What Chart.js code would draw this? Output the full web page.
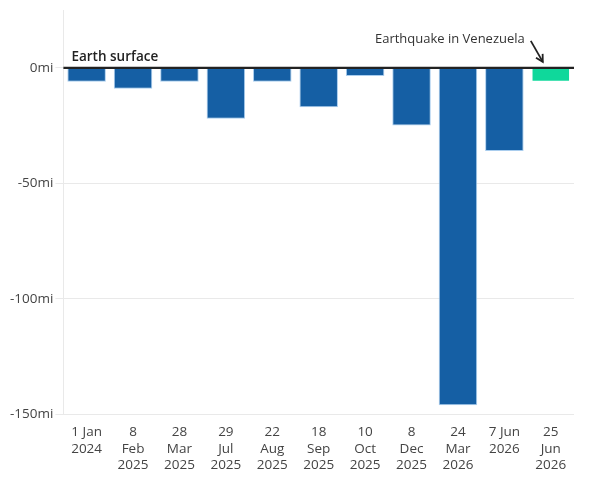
<!DOCTYPE html>
<html>
<head>
<meta charset="utf-8">
<script src="https://cdn.jsdelivr.net/npm/chart.js@4/dist/chart.umd.min.js"></script>
<style>
html,body{margin:0;padding:0;background:#fff;}
#wrap{width:597px;height:478px;position:relative;}
</style>
</head>
<body>
<div id="wrap"><canvas id="c" width="597" height="478"></canvas></div>
<script>
const categories = [
  ["1 Jan","2024"],
  ["8","Feb","2025"],
  ["28","Mar","2025"],
  ["29","Jul","2025"],
  ["22","Aug","2025"],
  ["18","Sep","2025"],
  ["10","Oct","2025"],
  ["8","Dec","2025"],
  ["24","Mar","2026"],
  ["7 Jun","2026"],
  ["25","Jun","2026"]
];
const depthMiles = [-6, -9, -6, -22, -6, -17, -3.5, -25, -146, -36, -6];
const yTickValues = [0, -50, -100, -150];
const surfaceLabel = "Earth surface";
const quakeLabel = "Earthquake in Venezuela";

const BLUE = "#155fa4";
const GREEN = "#0fd89b";
const barColors = depthMiles.map((v, i) => i === depthMiles.length - 1 ? GREEN : BLUE);
const barBorders = depthMiles.map((v, i) => i === depthMiles.length - 1 ? "rgba(0,0,0,0)" : "#a9cdee");
const FONT = "'Open Sans', sans-serif";

const annotations = {
  id: "annotations",
  afterDatasetsDraw(chart) {
    const ctx = chart.ctx;
    const area = chart.chartArea;
    const y = chart.scales.y;
    const x = chart.scales.x;
    const y0 = y.getPixelForValue(0);
    ctx.save();
    ctx.strokeStyle = "#222";
    ctx.lineWidth = 2.2;
    ctx.beginPath();
    ctx.moveTo(area.left, y0);
    ctx.lineTo(area.right, y0);
    ctx.stroke();
    ctx.fillStyle = "#222";
    ctx.font = "600 13.5px " + FONT;
    ctx.textBaseline = "alphabetic";
    ctx.textAlign = "left";
    ctx.fillText(surfaceLabel, area.left + 8, y0 - 7);
    const lastX = x.getPixelForValue(depthMiles.length - 1);
    ctx.font = "400 13px " + FONT;
    ctx.fillStyle = "#333";
    ctx.textAlign = "right";
    ctx.textBaseline = "middle";
    ctx.fillText(quakeLabel, lastX - 26, y0 - 29);
    const sx = lastX - 20, sy = y0 - 27;
    const ex = lastX - 8, ey = y0 - 6;
    ctx.strokeStyle = "#222";
    ctx.lineWidth = 1.8;
    ctx.beginPath();
    ctx.moveTo(sx, sy);
    ctx.lineTo(ex, ey);
    ctx.stroke();
    const ang = Math.atan2(ey - sy, ex - sx);
    const L = 8;
    ctx.beginPath();
    ctx.moveTo(ex - L * Math.cos(ang - 0.5), ey - L * Math.sin(ang - 0.5));
    ctx.lineTo(ex, ey);
    ctx.lineTo(ex - L * Math.cos(ang + 0.5), ey - L * Math.sin(ang + 0.5));
    ctx.stroke();
    ctx.restore();
  }
};

new Chart(document.getElementById("c"), {
  type: "bar",
  data: {
    labels: categories,
    datasets: [{
      data: depthMiles,
      backgroundColor: barColors,
      borderColor: barBorders,
      borderWidth: 1,
      borderSkipped: "start",
      barPercentage: 0.83,
      categoryPercentage: 1
    }]
  },
  options: {
    responsive: false,
    animation: false,
    layout: { padding: { top: 10, right: 23, bottom: 3, left: 8 } },
    plugins: { legend: { display: false }, tooltip: { enabled: false } },
    scales: {
      x: {
        grid: { display: false },
        border: { display: false },
        ticks: {
          color: "#444",
          font: { family: FONT, size: 13.5 },
          maxRotation: 0,
          autoSkip: false,
          padding: 2
        }
      },
      y: {
        min: -150,
        max: 25,
        afterBuildTicks(axis) {
          axis.ticks = yTickValues.map(v => ({ value: v }));
        },
        grid: { color: "#e9e9e9", lineWidth: 1, tickLength: 8 },
        border: { display: true, color: "#e9e9e9" },
        ticks: {
          color: "#444",
          font: { family: FONT, size: 13.5 },
          padding: 2,
          callback: v => v + "mi"
        }
      }
    }
  },
  plugins: [annotations]
});
</script>
</body>
</html>
